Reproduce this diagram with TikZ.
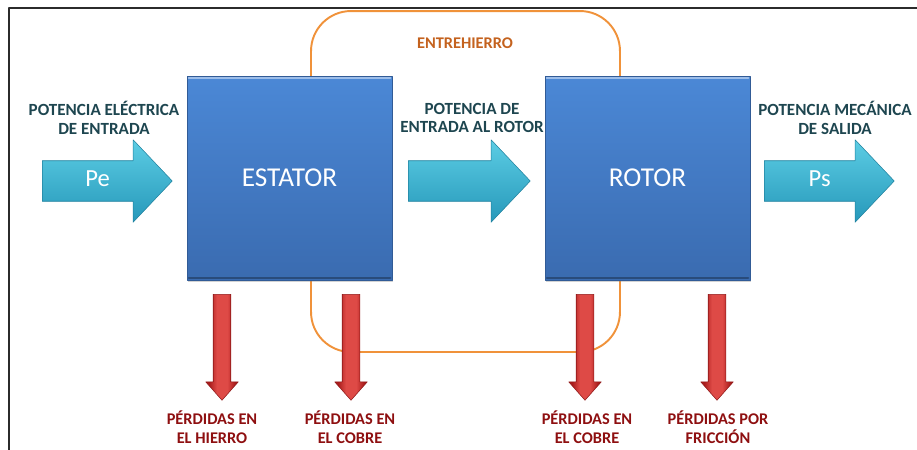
\documentclass[tikz,border=0pt]{standalone}
\usepackage{fontspec}
\setmainfont{Carlito}
\usepackage{tikz}
\usetikzlibrary{shapes.arrows,shadows,positioning}
\definecolor{frame}{HTML}{2B2B2B}
\definecolor{blockhi}{HTML}{4B88D6}
\definecolor{blocklo}{HTML}{3A6BB0}
\definecolor{cyanhi}{HTML}{5CCDE4}
\definecolor{cyanlo}{HTML}{2698BA}
\definecolor{redhi}{HTML}{DE4A46}
\definecolor{redlo}{HTML}{A81C1C}
\definecolor{gapline}{HTML}{F0923A}
\definecolor{gaptext}{HTML}{C4621E}
\definecolor{powertext}{HTML}{1E4650}
\definecolor{losstext}{HTML}{8E0F10}
\pgfdeclarehorizontalshading{lossshade}{100bp}{
  color(0bp)=(redlo); color(30bp)=(redlo); color(42bp)=(redhi);
  color(58bp)=(redhi); color(70bp)=(redlo); color(100bp)=(redlo)}
\tikzset{
  MachineBlock/.style={
    draw=blocklo!85!black, line width=0.4pt,
    top color=blockhi, bottom color=blocklo,
    minimum width=4.1cm, minimum height=4.08cm,
    text=white, font=\fontsize{15.5}{18}\selectfont,
    drop shadow={shadow xshift=0.6pt, shadow yshift=-1.2pt, opacity=0.35},
    path picture={
      \draw[blockhi!55!white, line width=1.4pt]
        ([xshift=1pt,yshift=-1pt]path picture bounding box.north west) --
        ([xshift=-1pt,yshift=-1pt]path picture bounding box.north east);
      \draw[blocklo!70!black, line width=1.2pt]
        ([xshift=1pt,yshift=1pt]path picture bounding box.south west) --
        ([xshift=-1pt,yshift=1pt]path picture bounding box.south east);
    }
  },
  PowerArrow/.style={
    single arrow, anchor=tail,
    draw=cyanlo!85!black, line width=0.3pt,
    top color=cyanhi, bottom color=cyanlo,
    minimum height=2.6cm,
    single arrow head extend=0.42cm, single arrow tip angle=93,
    inner xsep=0pt, inner ysep=0.2cm, text height=0.3cm, text depth=0.1cm,
    text=white, font=\fontsize{14}{16}\selectfont
  },
  LossArrow/.style={
    single arrow, anchor=tail, shape border rotate=270,
    draw=redlo!85!black, line width=0.3pt,
    shade, shading=lossshade, shading angle=0,
    minimum height=2.12cm, inner xsep=0.17cm, inner ysep=0pt,
    text height=0pt, text depth=0pt,
    single arrow head extend=0.15cm, single arrow tip angle=83
  },
  AirGap/.style={
    draw=gapline, line width=1.1pt, rounded corners=0.8cm,
    minimum width=6.18cm, minimum height=6.82cm
  },
  PowerLabel/.style={
    align=center, text=powertext,
    font=\bfseries\fontsize{9.7}{10.6}\selectfont
  },
  LossLabel/.style={
    align=center, text=losstext,
    font=\bfseries\fontsize{9.3}{11}\selectfont
  }
}

\begin{document}
\begin{tikzpicture}[x=0.02cm, y=-0.02cm, line cap=round, line join=round]
  \useasboundingbox (0,0) rectangle (917,450);
  \draw[frame, line width=1.2pt] (9,450) -- (9,8) -- (917,8);

  % air gap loop, behind the blocks
  \node[AirGap] (gap) at (465.5,181.5) {};
  \node[text=gaptext, font=\bfseries\fontsize{9.3}{11}\selectfont] (gaplbl) at (465,43) {ENTREHIERRO};

  \node[MachineBlock] (stator) at (289.5,178) {ESTATOR};
  \node[MachineBlock] (rotor) at (647.5,178) {ROTOR};

  \node[PowerArrow] (pin) at (42,181) {Pe};
  \node[PowerArrow, minimum height=2.44cm] (pgap) at (408,181) {};
  \node[PowerArrow] (pout) at (764,181) {Ps};

  \node[PowerLabel] (pinlbl) at (104,118) {POTENCIA ELÉCTRICA\\DE ENTRADA};
  \node[PowerLabel] (pgaplbl) at (472,118) {POTENCIA DE\\ENTRADA AL ROTOR};
  \node[PowerLabel] (poutlbl) at (835,118) {POTENCIA MECÁNICA\\DE SALIDA};

  \node[LossArrow] (liron) at (222,294) {};
  \node[LossArrow] (lcus) at (351,294) {};
  \node[LossArrow] (lcur) at (585,294) {};
  \node[LossArrow] (lfric) at (717,294) {};

  \node[LossLabel] (lironlbl) at (212,427) {PÉRDIDAS EN\\EL HIERRO};
  \node[LossLabel] (lcuslbl) at (350,427) {PÉRDIDAS EN\\EL COBRE};
  \node[LossLabel] (lcurlbl) at (587,427) {PÉRDIDAS EN\\EL COBRE};
  \node[LossLabel] (lfriclbl) at (718,427) {PÉRDIDAS POR\\FRICCIÓN};
\end{tikzpicture}
\end{document}
